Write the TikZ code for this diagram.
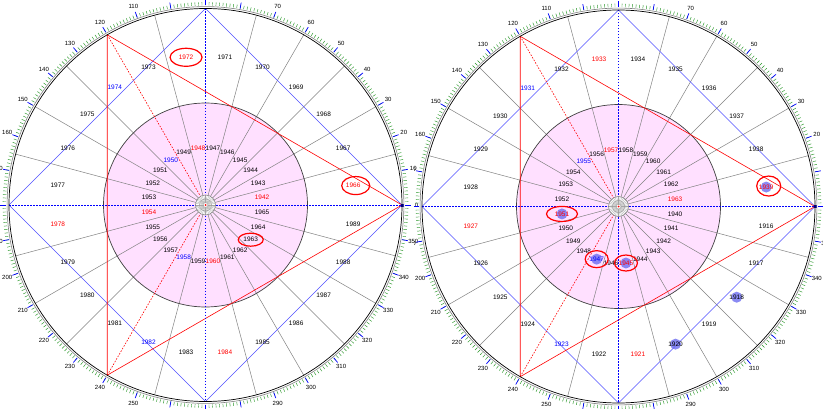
\documentclass[tikz,border=0pt]{standalone}
\usepackage{fontspec}
\setmainfont{Liberation Sans}
\usetikzlibrary{calc}
\definecolor{pinkfill}{RGB}{255,224,255}
\definecolor{tickgreen}{RGB}{40,150,40}
\definecolor{sqblue}{RGB}{80,80,255}
\definecolor{dotblue}{RGB}{100,100,240}
\definecolor{spokegray}{RGB}{130,130,130}
\tikzset{
  spoke/.style={draw=spokegray, line width=0.5pt},
  pinkedge/.style={draw=black!75, line width=0.7pt},
  trianglered/.style={draw=red, line width=0.6pt},
  dashred/.style={draw=red, line width=0.6pt, dash pattern=on 1.5pt off 1.5pt},
  squareblue/.style={draw=sqblue, line width=0.6pt},
  dashblue/.style={draw=blue, line width=0.7pt, dash pattern=on 1.5pt off 1.5pt},
  yearlbl/.style={font=\fontsize{6.5}{7}\selectfont, inner sep=0pt},
  deglbl/.style={font=\fontsize{6}{7}\selectfont, inner sep=0pt},
  ringmark/.style={draw=red, line width=1.2pt},
  dotfill/.style={fill=dotblue, fill opacity=0.75},
}
\newcommand\wheelbase[1]{%
  \fill[pinkfill] (0,0) circle (102pt);
  \foreach \k in {1,2,3,4,5,7,9,10,11,13,14,15,17,19,20,21,22,23}{
    \draw[spoke] ({15*\k}:10pt) -- ({15*\k}:196.5pt);}
  \draw[pinkedge] (0,0) circle (102pt);
  \coordinate (#1v0) at (0:196.5pt);
  \coordinate (#1v90) at (90:196.5pt);
  \coordinate (#1v120) at (120:196.5pt);
  \coordinate (#1v180) at (180:196.5pt);
  \coordinate (#1v240) at (240:196.5pt);
  \coordinate (#1v270) at (270:196.5pt);
  \coordinate (#1c) at (0,0);
  \draw[squareblue] (#1v0) -- (#1v90) -- (#1v180) -- (#1v270) -- cycle;
  \draw[trianglered] (#1v0) -- (#1v120) -- (#1v240) -- cycle;
  \draw[dashred] (#1c) -- (#1v120);
  \draw[dashred] (#1c) -- (#1v240);
  \draw[dashblue] (#1v180) -- (#1v0);
  \draw[dashblue] (#1v90) -- (#1v270);
  \fill[white] (#1c) circle (10pt);
  \foreach \a in {0,10,...,350}{
    \draw[gray!70, line width=0.3pt] (\a:2pt) -- (\a:10pt);}
  \draw[gray, line width=0.5pt] (#1c) circle (10pt);
  \draw[gray!80, line width=0.4pt] (#1c) circle (6pt);
  \fill[red] (#1c) circle (1pt);
  \fill[blue!70!black] ($(#1v0)+(-1.5pt,-1.5pt)$) rectangle ($(#1v0)+(1.5pt,1.5pt)$);
  \draw[black, line width=0.7pt] (#1c) circle (196.5pt);
  \draw[gray, line width=0.6pt] (#1c) circle (198.4pt);
  \foreach \a in {0,...,359}{
    \draw[tickgreen, line width=0.45pt] (\a:199.5pt) -- (\a:202.8pt);}
  \foreach \a in {0,10,...,350}{
    \draw[blue, line width=0.7pt] (\a:199.5pt) -- (\a:205.5pt);
    \node[deglbl] (#1d\a) at (\a:211pt) {\a};}
}
\newcommand\wheellabels[4]{%
  \foreach \k in {0,...,23}{
    \pgfmathtruncatemacro\yo{#2+#4*\k}
    \pgfmathtruncatemacro\yi{#3+#4*\k}
    \pgfmathtruncatemacro\isred{mod(\k,6)==0 ? 1 : 0}
    \pgfmathtruncatemacro\isblue{(\k==8)||(\k==16) ? 1 : 0}
    \ifnum\isred=1 \def\lc{red}\else\ifnum\isblue=1 \def\lc{blue}\else\def\lc{black}\fi\fi
    \node[yearlbl, text=\lc] (#1o\k) at ({7.5+15*\k}:149pt) {\yo};
    \node[yearlbl, text=\lc] (#1i\k) at ({7.5+15*\k}:57pt) {\yi};
  }
}
\begin{document}
\begin{tikzpicture}[x=1pt,y=1pt]
\useasboundingbox (0,0) rectangle (823,408);
\clip (0,0) rectangle (823,408);
\fill[white] (0,0) rectangle (823,408);
% left wheel
\begin{scope}
  \clip (0,0) rectangle (418,408);
  \begin{scope}[shift={(205.5,203)}]
    \wheelbase{L}
    \wheellabels{L}{1966}{1942}{1}
    \draw[ringmark] (Lo6.center) ellipse [x radius=16pt, y radius=9pt];
    \draw[ringmark] ($(Lo0.center)+(2.5pt,0)$) ellipse [x radius=14pt, y radius=9pt];
    \draw[ringmark] (Li21.center) ellipse [x radius=12.5pt, y radius=6.5pt];
  \end{scope}
\end{scope}
% right wheel
\begin{scope}
  \clip (414,0) rectangle (823,408);
  \begin{scope}[shift={(618.5,201.5)}]
    \wheelbase{R}
    \fill[dotfill] (7.5:149pt) circle (5.5pt);
    \fill[dotfill] (292.5:149pt) circle (5.5pt);
    \fill[dotfill] (322.5:149pt) circle (5.5pt);
    \fill[dotfill] (187.5:57pt) circle (5.5pt);
    \fill[dotfill] (247.5:57pt) circle (5.5pt);
    \fill[dotfill] (277.5:57pt) circle (5.5pt);
    \wheellabels{R}{1939}{1963}{-1}
    \draw[ringmark] ($(Ro0.center)+(2.5pt,1pt)$) ellipse [x radius=12pt, y radius=10pt];
    \draw[ringmark] (Ri12.center) ellipse [x radius=15.5pt, y radius=7.5pt];
    \draw[ringmark] (Ri16.center) ellipse [x radius=11.5pt, y radius=8.5pt];
    \draw[ringmark] (Ri18.center) ellipse [x radius=11.5pt, y radius=8pt];
  \end{scope}
\end{scope}
\end{tikzpicture}
\end{document}
